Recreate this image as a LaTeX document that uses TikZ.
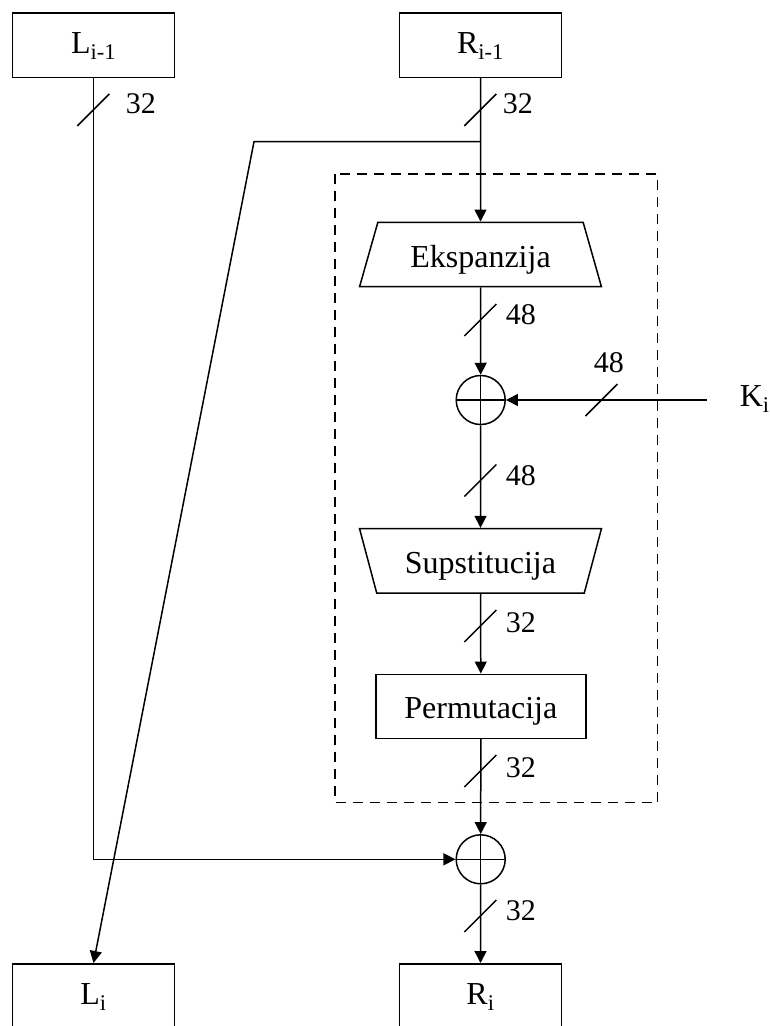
\documentclass[tikz,border=0pt]{standalone}
\usepackage{fontspec}
\setmainfont{Liberation Serif}
\usetikzlibrary{arrows.meta,shapes.geometric}
\begin{document}
\begin{tikzpicture}[x=1pt,y=-1pt,
  line width=1.5pt,
  bigfont/.style={font=\fontsize{32}{38}\selectfont},
  boxst/.style={draw, bigfont, minimum width=162pt, minimum height=64.5pt, inner sep=0pt, text height=17pt, text depth=0pt},
  permst/.style={draw, bigfont, minimum width=210pt, minimum height=64pt, inner sep=0pt, text height=24pt, text depth=0pt},
  trapst/.style={draw, bigfont, trapezium, trapezium stretches=true, minimum width=242pt, minimum height=64.4pt, inner sep=0pt, text height=25pt, text depth=0pt},
  trapdown/.style={trapst, trapezium left angle=63.43, trapezium right angle=63.43},
  trapup/.style={trapst, trapezium left angle=116.57, trapezium right angle=116.57},
  num/.style={font=\fontsize{30}{36}\selectfont, inner sep=0pt, anchor=base west},
  klabel/.style={bigfont, inner sep=0pt, anchor=base west},
  arr/.style={-{Triangle[length=12pt,width=12pt]}},
  xorst/.style={draw, circle, minimum size=49pt, inner sep=0pt,
    path picture={\draw[line width=1.5pt] (path picture bounding box.north) -- (path picture bounding box.south)
      (path picture bounding box.west) -- (path picture bounding box.east);}},
  frame/.style={draw, dash pattern=on 10pt off 7pt}
]
\useasboundingbox (0,0) rectangle (770,1026);
\clip (0,0) rectangle (770,1026);

% blocks
\node[boxst] (L0) at (93.5,45) {L\textsubscript{i-1}};
\node[boxst] (R0) at (480.5,45) {R\textsubscript{i-1}};
\node[boxst] (L1) at (93.5,996) {L\textsubscript{i}};
\node[boxst] (R1) at (480.5,996) {R\textsubscript{i}};

\draw[frame] (335,174) rectangle (657.7,802.5);

\node[trapdown] (eks) at (480.5,254.5) {Ekspanzija};
\node[xorst] (x1) at (480.7,400) {};
\node[klabel] (K) at (739,406.7) {K\textsubscript{i}};
\node[trapup] (sup) at (480.5,560.8) {Supstitucija};
\node[permst] (perm) at (480.8,706.3) {Permutacija};
\node[xorst] (x2) at (480.7,859.3) {};

\coordinate (br) at (480.5,141.7);
\coordinate (brL) at (254,141.7);
\coordinate (Kend) at (706.7,400);

% connectors
\draw[arr] (L0.south) |- (x2.west);
\draw[arr] (R0.south) -- (eks.north);
\draw[arr] (br) -- (brL) -- (L1.north);
\draw[arr] (eks.south) -- (x1.north);
\draw[arr] (Kend) -- (x1.east);
\draw[arr] (x1.south) -- (sup.north);
\draw[arr] (sup.south) -- (perm.north);
\draw[arr] (perm.south) -- (x2.north);
\draw[arr] (x2.south) -- (R1.north);

% bus width marks
\draw (77.3,126) -- (109.3,94);
\draw (464.3,126) -- (496.3,94);
\draw (464.3,336) -- (496.3,304);
\draw (585.5,416) -- (617.5,384);
\draw (464.3,496.5) -- (496.3,464.5);
\draw (464.3,642) -- (496.3,610);
\draw (464.3,787) -- (496.3,755);
\draw (464.3,932) -- (496.3,900);

% bus width labels
\node[num] (n1) at (125,113.3) {32};
\node[num] (n2) at (502,113.3) {32};
\node[num] (n3) at (505,324) {48};
\node[num] (n4) at (593,372) {48};
\node[num] (n5) at (505,485) {48};
\node[num] (n6) at (505,632) {32};
\node[num] (n7) at (505,777) {32};
\node[num] (n8) at (505,920) {32};
\end{tikzpicture}
\end{document}
